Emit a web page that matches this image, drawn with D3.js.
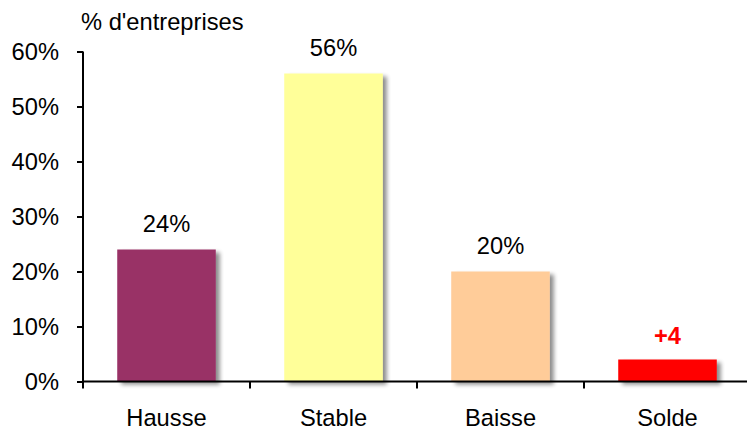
<!DOCTYPE html>
<html><head><meta charset="utf-8">
<script src="https://cdn.jsdelivr.net/npm/d3@7"></script>
<style>body{margin:0;background:#fff}svg{display:block}text{font-family:"Liberation Sans",Arial,sans-serif}</style>
</head><body>
<svg id="c" width="747" height="429"></svg>
<script>
const categories = ["Hausse","Stable","Baisse","Solde"];
const values = [24,56,20,4];
const valueLabels = ["24%","56%","20%","+4"];
const colors = ["#993366","#FFFF99","#FFCC99","#FF0000"];
const yTicks = [0,10,20,30,40,50,60];

const FS = 23.7;
const svg = d3.select("#c");
const x0 = 83, x1 = 751, yTop = 51.5, yBot = 381.5;
const x = d3.scaleBand().domain(categories).range([x0,x1]).paddingInner(0.41).paddingOuter(0.205);
const y = d3.scaleLinear().domain([0,60]).range([yBot,yTop]);

const defs = svg.append("defs");
const f = defs.append("filter").attr("id","sh").attr("x","-20%").attr("y","-20%").attr("width","150%").attr("height","150%");
f.append("feGaussianBlur").attr("in","SourceAlpha").attr("stdDeviation",2);
f.append("feOffset").attr("dx",4).attr("dy",3).attr("result","b");
f.append("feComponentTransfer").append("feFuncA").attr("type","linear").attr("slope",0.45);
const m = f.append("feMerge"); m.append("feMergeNode"); m.append("feMergeNode").attr("in","SourceGraphic");

svg.append("g").selectAll("rect").data(values).join("rect")
  .attr("x",(d,i)=>x(categories[i])).attr("width",x.bandwidth())
  .attr("y",d=>y(d)).attr("height",d=>y(0)-y(d))
  .attr("fill",(d,i)=>colors[i]).attr("filter","url(#sh)");

// y axis
const ya = svg.append("g").attr("transform",`translate(${x0},0)`)
  .call(d3.axisLeft(y).tickValues(yTicks).tickFormat(d=>d+"%").tickSize(6).tickPadding(18));
ya.select(".domain").attr("stroke","#000").attr("stroke-width",2).attr("d",`M0,${yTop}V${yBot}`);
ya.selectAll(".tick line").attr("stroke","#000").attr("stroke-width",2);
ya.selectAll("text").attr("font-size",FS).attr("fill","#000").attr("font-family","Liberation Sans, Arial, sans-serif");

// x axis
const xa = svg.append("g").attr("transform",`translate(0,${yBot})`)
  .call(d3.axisBottom(x).tickSize(0).tickPadding(27.5));
xa.select(".domain").attr("stroke","#000").attr("stroke-width",2).attr("d",`M${x0},0H747`);
xa.selectAll("text").attr("font-size",FS).attr("fill","#000").attr("font-family","Liberation Sans, Arial, sans-serif");
const step = x.step();
svg.append("g").selectAll("line").data(d3.range(categories.length)).join("line")
  .attr("x1",i=>x0+i*step).attr("x2",i=>x0+i*step)
  .attr("y1",yBot).attr("y2",yBot+7).attr("stroke","#000").attr("stroke-width",2);

// value labels
svg.append("g").selectAll("text").data(values).join("text")
  .attr("x",(d,i)=>x(categories[i])+x.bandwidth()/2)
  .attr("y",(d,i)=>y(d)-(i===3?16:17.5))
  .attr("text-anchor","middle").attr("font-size",FS)
  .attr("font-weight",(d,i)=>i===3?"bold":"normal")
  .attr("fill",(d,i)=>i===3?"#FF0000":"#000")
  .text((d,i)=>valueLabels[i]);

svg.append("text").attr("x",81).attr("y",29.5).attr("font-size",FS).attr("fill","#000").text("% d'entreprises");
</script>
</body></html>
